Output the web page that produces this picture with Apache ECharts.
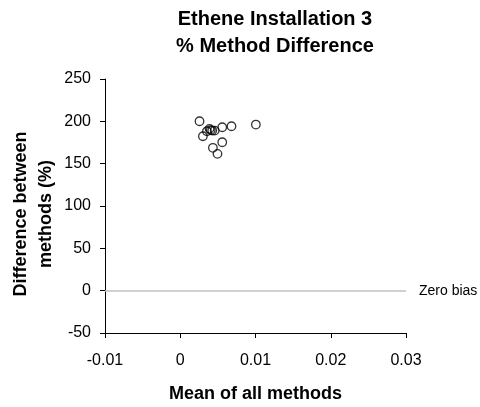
<!DOCTYPE html>
<html>
<head>
<meta charset="utf-8">
<script src="https://cdn.jsdelivr.net/npm/echarts@6/dist/echarts.min.js"></script>
<style>
html,body{margin:0;padding:0;background:#fff;}
#chart{width:480px;height:407px;}
</style>
</head>
<body>
<div id="chart"></div>
<script>
var titleLines = ['Ethene Installation 3', '% Method Difference'];
var xAxisTitle = 'Mean of all methods';
var yAxisTitle = 'Difference between\nmethods (%)';
var refLineLabel = 'Zero bias';
var refLineValue = 0;

var meanValues = [0.00256, 0.00301, 0.00355, 0.00389, 0.00405, 0.00425, 0.00458, 0.00558, 0.00681, 0.01005, 0.00434, 0.00558, 0.00495];
var diffValues = [200.1, 182.4, 188.3, 191.1, 189.7, 189.1, 189.1, 193.0, 194.2, 196.2, 168.7, 175.3, 161.6];

var xTickLabels = ['-0.01', '0', '0.01', '0.02', '0.03'];
var yTickLabels = ['-50', '0', '50', '100', '150', '200', '250'];

var points = meanValues.map(function (m, i) { return [m, diffValues[i]]; });

var font = 'Liberation Sans, Arial, sans-serif';
var chart = echarts.init(document.getElementById('chart'), null, {renderer: 'canvas'});
chart.setOption({
  animation: false,
  backgroundColor: '#ffffff',
  title: {
    text: titleLines.join('\n'),
    left: 270,
    textAlign: 'center',
    top: 1,
    textStyle: {fontFamily: font, fontSize: 20, fontWeight: 'bold', color: '#000', lineHeight: 27}
  },
  grid: {left: 105, right: 74, top: 79, bottom: 74, containLabel: false, outerBoundsMode: 'none'},
  xAxis: {
    type: 'value',
    min: -0.01, max: 0.03, interval: 0.01,
    name: xAxisTitle,
    nameLocation: 'middle',
    nameGap: 52,
    nameMoveOverlap: false,
    nameTextStyle: {fontFamily: font, fontSize: 18, fontWeight: 'bold', color: '#000'},
    axisLine: {onZero: false, lineStyle: {color: '#000', width: 1}},
    axisTick: {show: true, inside: false, length: 5, lineStyle: {color: '#000'}},
    axisLabel: {
      fontFamily: font, fontSize: 16, color: '#000', margin: 20,
      formatter: function (v) {
        var idx = Math.round((v + 0.01) / 0.01);
        return xTickLabels[idx];
      }
    },
    splitLine: {show: false}
  },
  yAxis: {
    type: 'value',
    min: -50, max: 250, interval: 50,
    name: yAxisTitle,
    nameLocation: 'middle',
    nameRotate: 90,
    nameGap: 46,
    nameMoveOverlap: false,
    nameTextStyle: {fontFamily: font, fontSize: 18, fontWeight: 'bold', color: '#000', lineHeight: 25, padding: [0, 16, 0, 0]},
    axisLine: {onZero: false, lineStyle: {color: '#000', width: 1}},
    axisTick: {show: true, inside: false, length: 5, lineStyle: {color: '#000'}},
    axisLabel: {
      fontFamily: font, fontSize: 16, color: '#000', margin: 14,
      formatter: function (v) {
        var idx = Math.round((v + 50) / 50);
        return yTickLabels[idx];
      }
    },
    splitLine: {show: false}
  },
  series: [{
    type: 'scatter',
    data: points,
    symbol: 'circle',
    symbolSize: 8.5,
    itemStyle: {color: 'rgba(0,0,0,0)', borderColor: '#000', borderWidth: 1.3},
    markLine: {
      silent: true,
      symbol: ['none', 'none'],
      lineStyle: {color: '#c0c0c0', type: 'solid', width: 1.5},
      label: {
        show: true, position: 'end', distance: 13,
        formatter: refLineLabel,
        fontFamily: font, fontSize: 14, color: '#000'
      },
      data: [{yAxis: refLineValue}]
    }
  }]
});
</script>
</body>
</html>
